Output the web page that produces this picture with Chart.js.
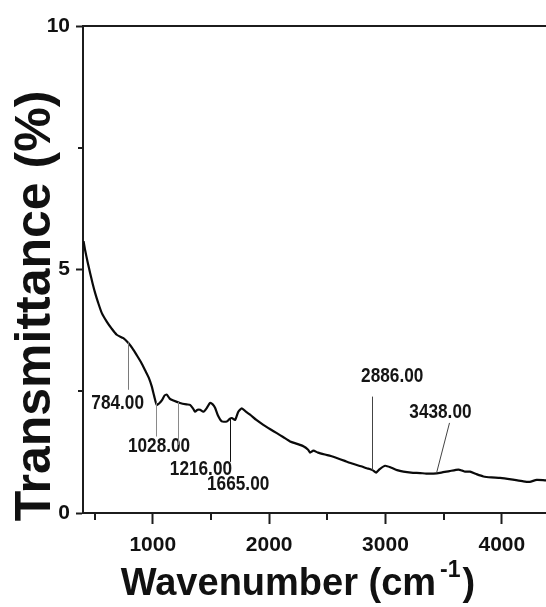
<!DOCTYPE html>
<html>
<head>
<meta charset="utf-8">
<script src="https://cdn.jsdelivr.net/npm/chart.js@4.4.1/dist/chart.umd.min.js"></script>
<style>
  html, body { margin: 0; padding: 0; background: #ffffff; overflow: hidden; }
  #wrap { width: 600px; height: 607px; }
</style>
</head>
<body>
<div id="wrap"><canvas id="ftir" width="600" height="607"></canvas></div>
<script>
// FTIR spectrum: wavenumber (cm-1) vs transmittance (%)
const wavenumbers = [
  405, 418, 440, 461, 482, 504, 530, 561, 604, 645, 690, 747, 790, 825, 862, 900,
  934, 965, 991, 1012, 1034, 1058, 1082, 1100, 1120, 1145, 1177, 1234, 1290, 1320,
  1345, 1363, 1385, 1406, 1435, 1465, 1492, 1515, 1535, 1560, 1593, 1636, 1660,
  1679, 1707, 1735, 1765, 1800, 1836, 1890, 1950, 2010, 2066, 2120, 2180, 2240,
  2294, 2335, 2352, 2380, 2420, 2480, 2530, 2581, 2650, 2720, 2790, 2839, 2870,
  2896, 2919, 2950, 2997, 3050, 3100, 3154, 3220, 3298, 3350, 3412, 3480, 3550,
  3627, 3660, 3684, 3727, 3780, 3842, 3910, 3985, 4080, 4185, 4240, 4300, 4380, 4450
];
const transmittance = [
  5.58, 5.40, 5.15, 4.93, 4.72, 4.52, 4.32, 4.11, 3.93, 3.79, 3.66, 3.59, 3.49, 3.38, 3.24, 3.09,
  2.93, 2.78, 2.60, 2.40, 2.22, 2.26, 2.33, 2.41, 2.43, 2.35, 2.31, 2.26, 2.23, 2.22,
  2.15, 2.08, 2.12, 2.12, 2.08, 2.16, 2.26, 2.23, 2.16, 2.00, 1.88, 1.88, 1.93,
  1.95, 1.91, 2.08, 2.15, 2.08, 2.02, 1.91, 1.81, 1.72, 1.64, 1.56, 1.47, 1.42,
  1.37, 1.30, 1.24, 1.28, 1.24, 1.20, 1.17, 1.13, 1.07, 1.01, 0.96, 0.92, 0.90,
  0.87, 0.83, 0.90, 0.97, 0.93, 0.88, 0.85, 0.83, 0.82, 0.81, 0.81, 0.83, 0.86,
  0.89, 0.87, 0.85, 0.85, 0.80, 0.75, 0.73, 0.72, 0.69, 0.65, 0.64, 0.68, 0.67, 0.67
];

// Labelled absorption bands
const peakPositions = [784, 1028, 1216, 1665, 2886, 3438];
const peakLabels = ['784.00', '1028.00', '1216.00', '1665.00', '2886.00', '3438.00'];

// Axis ticks
const xTickValues = [1000, 2000, 3000, 4000];
const xMinorTicks = [500, 1500, 2500, 3500, 4500];
const yTickValues = [0, 5, 10];
const yMinorTicks = [2.5, 7.5];

const AXIS = '#1c1c1c';
const FONT = '"Liberation Sans", Arial, Helvetica, sans-serif';

// Leader-line and label placement for each band (same order as peakPositions)
const peakStyle = [
  { leaderTo: 2.53, slant: 0,  labelDx: -10, labelAt: 2.13, color: '#7a7a7a' },
  { leaderTo: 1.57, slant: 0,  labelDx: 3,   labelAt: 1.26, color: '#8a8a8a' },
  { leaderTo: 1.40, slant: 0,  labelDx: 23,  labelAt: 0.79, color: '#8a8a8a' },
  { leaderTo: 1.05, slant: 0,  labelDx: 8,   labelAt: 0.48, color: '#111111' },
  { leaderTo: 2.39, slant: 0,  labelDx: 20,  labelAt: 2.70, color: '#444444' },
  { leaderTo: 1.85, slant: 13, labelDx: 4,   labelAt: 1.95, color: '#444444' }
];

function curveAt(v) {
  for (let i = 1; i < wavenumbers.length; i++) {
    if (v <= wavenumbers[i]) {
      const f = (v - wavenumbers[i - 1]) / (wavenumbers[i] - wavenumbers[i - 1]);
      return transmittance[i - 1] + f * (transmittance[i] - transmittance[i - 1]);
    }
  }
  return transmittance[transmittance.length - 1];
}

const decor = {
  id: 'decor',
  beforeDraw(chart) {
    const { ctx, width, height } = chart;
    ctx.save();
    ctx.fillStyle = '#ffffff';
    ctx.fillRect(0, 0, width, height);
    ctx.restore();
  },
  afterDraw(chart) {
    const { ctx, chartArea, scales } = chart;
    const xs = scales.x, ys = scales.y;
    ctx.save();
    ctx.strokeStyle = AXIS;
    ctx.lineWidth = 2;
    ctx.lineCap = 'butt';
    // top frame line
    ctx.beginPath();
    ctx.moveTo(chartArea.left - 1, chartArea.top);
    ctx.lineTo(chartArea.right, chartArea.top);
    ctx.stroke();
    // minor ticks
    ctx.beginPath();
    xMinorTicks.forEach(v => {
      const px = Math.round(xs.getPixelForValue(v));
      ctx.moveTo(px, chartArea.bottom);
      ctx.lineTo(px, chartArea.bottom + 7);
    });
    yMinorTicks.forEach(v => {
      const py = Math.round(ys.getPixelForValue(v));
      ctx.moveTo(chartArea.left, py);
      ctx.lineTo(chartArea.left - 5, py);
    });
    ctx.stroke();

    // band annotations
    peakPositions.forEach((v, i) => {
      const st = peakStyle[i];
      const px = xs.getPixelForValue(v);
      const py = ys.getPixelForValue(curveAt(v));
      const ey = ys.getPixelForValue(st.leaderTo);
      ctx.strokeStyle = st.color;
      ctx.lineWidth = 1;
      ctx.beginPath();
      ctx.moveTo(Math.round(px) + 0.5, py);
      ctx.lineTo(Math.round(px + st.slant) + 0.5, ey);
      ctx.stroke();
      ctx.save();
      ctx.translate(px + st.labelDx, ys.getPixelForValue(st.labelAt));
      ctx.scale(0.82, 1);
      ctx.font = 'bold 21px ' + FONT;
      ctx.fillStyle = '#151515';
      ctx.textAlign = 'center';
      ctx.textBaseline = 'alphabetic';
      ctx.fillText(peakLabels[i], 0, 0);
      ctx.restore();
    });

    // x axis title with superscript
    ctx.fillStyle = '#111111';
    ctx.textBaseline = 'alphabetic';
    ctx.textAlign = 'left';
    const main = 'Wavenumber (cm';
    ctx.font = 'bold 38px ' + FONT;
    const w1 = ctx.measureText(main).width;
    ctx.font = 'bold 23px ' + FONT;
    const sup = '-1';
    const w2 = ctx.measureText(sup).width;
    ctx.font = 'bold 38px ' + FONT;
    const w3 = ctx.measureText(')').width;
    const total = w1 + 4 + w2 + 2 + w3;
    let tx = 298 - total / 2;
    const baseY = 595;
    ctx.fillText(main, tx, baseY);
    tx += w1 + 4;
    ctx.font = 'bold 23px ' + FONT;
    ctx.fillText(sup, tx, baseY - 18);
    tx += w2 + 2;
    ctx.font = 'bold 38px ' + FONT;
    ctx.fillText(')', tx, baseY);

    // y axis title
    ctx.save();
    ctx.translate(50, 306);
    ctx.rotate(-Math.PI / 2);
    ctx.font = 'bold 50px ' + FONT;
    ctx.textAlign = 'center';
    ctx.fillText('Transmittance (%)', 0, 0);
    ctx.restore();

    ctx.restore();
  }
};

const points = wavenumbers.map((w, i) => ({ x: w, y: transmittance[i] }));

new Chart(document.getElementById('ftir'), {
  type: 'line',
  data: {
    datasets: [{
      data: points,
      borderColor: '#0a0a0a',
      borderWidth: 2.2,
      pointRadius: 0,
      tension: 0.2,
      fill: false
    }]
  },
  options: {
    responsive: false,
    animation: false,
    devicePixelRatio: 1,
    layout: { padding: { top: 26, right: 10, left: 0, bottom: 0 } },
    plugins: { legend: { display: false }, tooltip: { enabled: false } },
    scales: {
      x: {
        type: 'linear',
        min: 400,
        max: 4758,
        afterBuildTicks: s => { s.ticks = xTickValues.map(v => ({ value: v })); },
        afterFit: s => { s.height = 94; },
        grid: { display: true, drawOnChartArea: false, drawTicks: true, tickLength: 11, tickWidth: 2, tickColor: AXIS },
        border: { display: true, color: AXIS, width: 2 },
        ticks: {
          font: { family: FONT, size: 21, weight: 'bold' },
          color: '#111111',
          padding: 9,
          maxRotation: 0,
          autoSkip: false,
          callback: v => String(v)
        }
      },
      y: {
        type: 'linear',
        min: 0,
        max: 10,
        afterBuildTicks: s => { s.ticks = yTickValues.map(v => ({ value: v })); },
        afterFit: s => { s.width = 83; },
        grid: { display: true, drawOnChartArea: false, drawTicks: true, tickLength: 7, tickWidth: 2, tickColor: AXIS },
        border: { display: true, color: AXIS, width: 2 },
        ticks: {
          font: { family: FONT, size: 21, weight: 'bold' },
          color: '#111111',
          padding: 6,
          autoSkip: false,
          callback: v => String(v)
        }
      }
    }
  },
  plugins: [decor]
});
</script>
</body>
</html>
